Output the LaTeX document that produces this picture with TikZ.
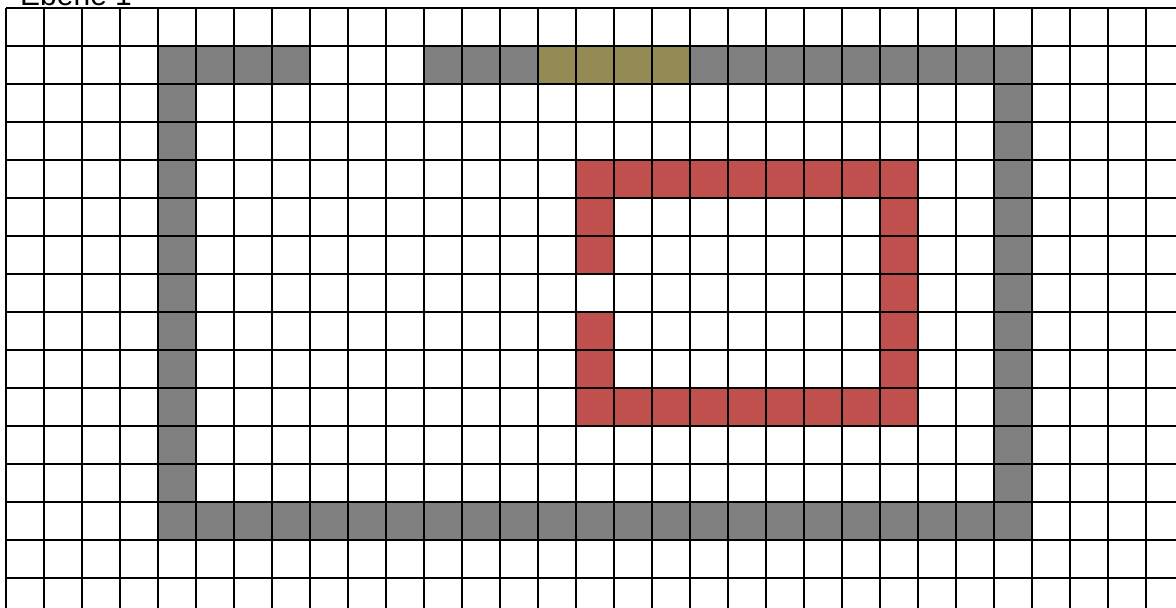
\documentclass[tikz,border=0pt]{standalone}
\usepackage{fontspec}
\setmainfont{Liberation Sans}
\definecolor{wallgray}{RGB}{128,128,128}
\definecolor{doorolive}{RGB}{148,138,84}
\definecolor{roomred}{RGB}{192,80,77}
\tikzset{gridline/.style={black,line width=2.8pt}}
\newcommand{\cellfill}[3]{\fill[#3] ({6+38*(#1)},{8+38*(#2)}) rectangle ++(38,38);}
\begin{document}
\begin{tikzpicture}[x=1pt,y=-1pt]
\useasboundingbox (0,0) rectangle (1176,608);
\clip (0,0) rectangle (1176,608);
\fill[white] (0,0) rectangle (1176,608);
% title (cut off at top, as in the reference)
\node[anchor=base west,inner sep=0pt,font=\fontsize{30}{30}\selectfont] (title) at (20,5) {Ebene 1};
% gray walls
\foreach \c in {4,...,7,11,12,13,18,19,...,26} {\cellfill{\c}{1}{wallgray}}
\foreach \c in {14,...,17} {\cellfill{\c}{1}{doorolive}}
\foreach \r in {2,...,13} {\cellfill{4}{\r}{wallgray}\cellfill{26}{\r}{wallgray}}
\foreach \c in {5,...,25} {\cellfill{\c}{13}{wallgray}}
% red room
\foreach \c in {15,...,23} {\cellfill{\c}{4}{roomred}\cellfill{\c}{10}{roomred}}
\foreach \r in {5,6,8,9} {\cellfill{15}{\r}{roomred}}
\foreach \r in {5,...,9} {\cellfill{23}{\r}{roomred}}
% grid
\foreach \i in {0,...,31} {\draw[gridline] ({6+38*\i},8) -- ({6+38*\i},620);}
\foreach \j in {0,...,16} {\draw[gridline] (6,{8+38*\j}) -- (1200,{8+38*\j});}
\end{tikzpicture}
\end{document}
